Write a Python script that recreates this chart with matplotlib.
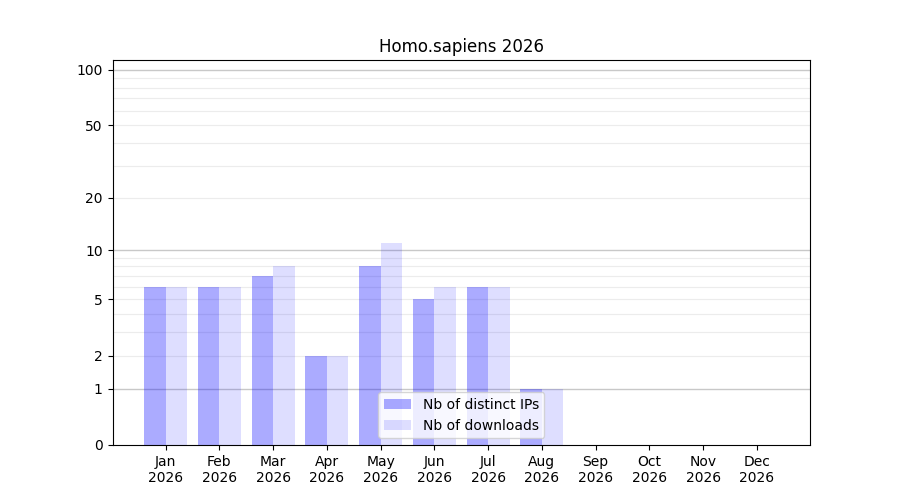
import numpy as np
import matplotlib.pyplot as plt

# --- DATA
months = ['Jan', 'Feb', 'Mar', 'Apr', 'May', 'Jun',
          'Jul', 'Aug', 'Sep', 'Oct', 'Nov', 'Dec']
year = 2026
distinct_ips = [6, 6, 7, 2, 8, 5, 6, 1, 0, 0, 0, 0]
downloads = [6, 6, 8, 2, 11, 6, 6, 1, 0, 0, 0, 0]
ytick_vals = [0, 1, 2, 5, 10, 20, 50, 100]

# --- PLOT
fig, ax = plt.subplots(figsize=(9, 5), dpi=100)
x = np.arange(len(months))
w = 0.4
ax.bar(x - w / 2, distinct_ips, w, color='blue', alpha=0.33,
       label='Nb of distinct IPs', zorder=2)
ax.bar(x + w / 2, downloads, w, color='blue', alpha=0.13,
       label='Nb of downloads', zorder=2)

ax.set_yscale('function', functions=(lambda v: np.log10(1 + np.maximum(v, 0)),
                                     lambda v: 10 ** v - 1))
ax.set_ylim(0, 113)
ax.set_yticks(ytick_vals)
ax.set_yticklabels([str(v) for v in ytick_vals])
ax.minorticks_off()

# grid under the (transparent) bars: decades darker, the rest light
for v in [1, 10, 100]:
    ax.axhline(v, color='#c8c8c8', lw=1, zorder=1)
for v in list(range(2, 10)) + list(range(20, 100, 10)):
    ax.axhline(v, color='#ececec', lw=0.8, zorder=1)

ax.set_xticks(x)
ax.set_xticklabels([f'{m}\n{year}' for m in months])
ax.set_title(f'Homo.sapiens {year}')
ax.legend(loc='lower center')

plt.savefig('out.png')
